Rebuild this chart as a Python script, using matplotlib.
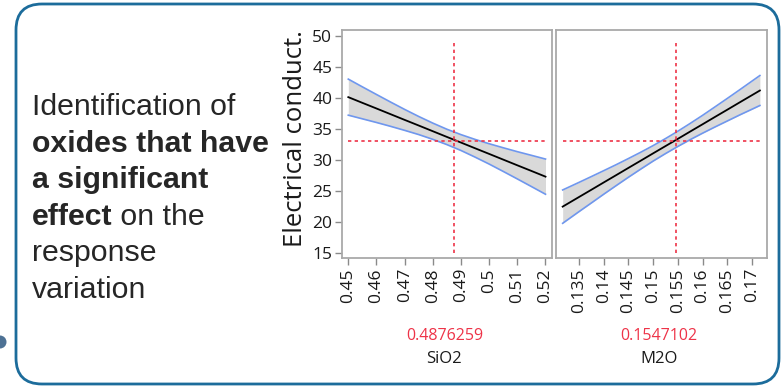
import matplotlib
matplotlib.use("Agg")
import matplotlib.pyplot as plt
from matplotlib.patches import FancyBboxPatch, Circle

# prediction profiles: predicted response with confidence band
sio2_x = [0.45, 0.455, 0.46, 0.465, 0.47, 0.475, 0.48, 0.485, 0.49, 0.495, 0.50, 0.505, 0.51, 0.515, 0.52]
sio2_pred = [40.21, 39.29, 38.38, 37.46, 36.54, 35.63, 34.71, 33.79, 32.88, 31.96, 31.05, 30.13, 29.21, 28.30, 27.38]
sio2_upper = [43.12, 41.87, 40.64, 39.42, 38.23, 37.09, 36.02, 35.03, 34.16, 33.39, 32.69, 32.04, 31.41, 30.82, 30.22]
sio2_lower = [37.30, 36.71, 36.12, 35.50, 34.85, 34.17, 33.40, 32.55, 31.60, 30.53, 29.41, 28.22, 27.01, 25.78, 24.54]

m2o_x = [0.1317, 0.135, 0.1375, 0.14, 0.1425, 0.145, 0.1475, 0.15, 0.1525, 0.155, 0.1575,
         0.16, 0.1625, 0.165, 0.1675, 0.17, 0.1716]
m2o_pred = [22.54, 24.09, 25.26, 26.44, 27.61, 28.79, 29.96, 31.14, 32.31, 33.48, 34.66,
            35.83, 37.01, 38.18, 39.36, 40.53, 41.28]
m2o_upper = [25.23, 26.45, 27.39, 28.34, 29.30, 30.30, 31.32, 32.39, 33.52, 34.71, 35.97,
             37.27, 38.63, 40.00, 41.39, 42.80, 43.70]
m2o_lower = [19.85, 21.73, 23.13, 24.54, 25.92, 27.28, 28.60, 29.89, 31.10, 32.25, 33.35,
             34.39, 35.39, 36.36, 37.33, 38.26, 38.86]

sio2_current = 0.4876259
m2o_current = 0.1547102
response_current = 33.2
response_span = [15, 49.4]

y_ticks = [15, 20, 25, 30, 35, 40, 45, 50]
sio2_ticks = [0.45, 0.46, 0.47, 0.48, 0.49, 0.50, 0.51, 0.52]
sio2_tick_labels = ["0.45", "0.46", "0.47", "0.48", "0.49", "0.5", "0.51", "0.52"]
m2o_ticks = [0.135, 0.14, 0.145, 0.15, 0.155, 0.16, 0.165, 0.17]
m2o_tick_labels = ["0.135", "0.14", "0.145", "0.15", "0.155", "0.16", "0.165", "0.17"]

caption_lines = [
    [("Identification of", "normal")],
    [("oxides that have", "bold")],
    [("a significant", "bold")],
    [("effect", "bold"), (" on the", "normal")],
    [("response", "normal")],
    [("variation", "normal")],
]

RED = "#ee3348"
BAND = "#d9d9d9"
BAND_EDGE = "#6f97ee"
FRAME = "#a9a9a9"
UI_FONT = ["Open Sans", "DejaVu Sans"]

W, H = 782, 386
fig = plt.figure(figsize=(W / 100, H / 100), dpi=100, facecolor="white")

# background layer in pixel units for the card, caption and labels
bg = fig.add_axes([0, 0, 1, 1], zorder=0)
bg.set_xlim(0, W)
bg.set_ylim(H, 0)
bg.axis("off")

card = FancyBboxPatch((16, 4), 763, 380, boxstyle="round,pad=0,rounding_size=26",
                      facecolor="white", edgecolor="#1c6c9b", linewidth=2.0)
bg.add_patch(card)
bg.add_patch(Circle((0, 342), 6.5, facecolor="#4d7194", edgecolor="none"))

renderer = fig.canvas.get_renderer()
baseline = 115
for parts in caption_lines:
    x = 32
    for txt, weight in parts:
        t = bg.text(x, baseline, txt, fontsize=21.8, fontweight=weight, color="#262626",
                    family=["Liberation Sans", "DejaVu Sans"], va="baseline", ha="left")
        bb = t.get_window_extent(renderer=renderer)
        x += bb.width
    baseline += 36.6

bg.text(295, 139, "Electrical conduct.", rotation=90, fontsize=18.5, family=UI_FONT,
        color="#1a1a1a", ha="center", va="center")
bg.text(445, 336, f"{sio2_current:.7f}", fontsize=11.5, family=UI_FONT, color=RED,
        ha="center", va="center")
bg.text(444, 359, "SiO2", fontsize=12, family=UI_FONT, color="#1a1a1a", ha="center", va="center")
bg.text(659, 336, f"{m2o_current:.7f}", fontsize=11.5, family=UI_FONT, color=RED,
        ha="center", va="center")
bg.text(659, 359, "M2O", fontsize=12, family=UI_FONT, color="#1a1a1a", ha="center", va="center")


def draw_profile(ax, x, pred, lower, upper, current, xlim, ticks, tick_labels, show_y):
    ax.fill_between(x, lower, upper, color=BAND, linewidth=0, zorder=1)
    ax.plot(x, upper, color=BAND_EDGE, lw=1.2, zorder=2)
    ax.plot(x, lower, color=BAND_EDGE, lw=1.2, zorder=2)
    ax.plot(x, pred, color="black", lw=1.3, zorder=3)
    ax.plot([x[0], x[-1]], [response_current, response_current], color=RED,
            lw=1.2, linestyle=(0, (2, 2)), zorder=4)
    ax.plot([current, current], response_span, color=RED, lw=1.2,
            linestyle=(0, (2, 2)), zorder=4)
    ax.set_xlim(*xlim)
    ax.set_ylim(14.2, 51.0)
    ax.set_xticks(ticks)
    ax.set_xticklabels(tick_labels, rotation=90, family=UI_FONT)
    ax.set_yticks(y_ticks)
    if show_y:
        ax.set_yticklabels([str(v) for v in y_ticks], family=UI_FONT)
    else:
        ax.tick_params(axis="y", left=False, labelleft=False)
    ax.tick_params(direction="out", length=5, width=1, color="#8a8a8a",
                   labelsize=12.5, labelcolor="#1a1a1a", pad=2)
    for sp in ax.spines.values():
        sp.set_color(FRAME)
        sp.set_linewidth(1.3)


ax1 = fig.add_axes([342 / W, 1 - 258.3 / H, 210 / W, 228 / H], zorder=1)
draw_profile(ax1, sio2_x, sio2_pred, sio2_lower, sio2_upper, sio2_current,
             (0.44776, 0.52231), sio2_ticks, sio2_tick_labels, True)

ax2 = fig.add_axes([556 / W, 1 - 258.3 / H, 211 / W, 228 / H], zorder=1)
draw_profile(ax2, m2o_x, m2o_pred, m2o_lower, m2o_upper, m2o_current,
             (0.13035, 0.17304), m2o_ticks, m2o_tick_labels, False)

fig.savefig("out.png", dpi=100, facecolor="white")
